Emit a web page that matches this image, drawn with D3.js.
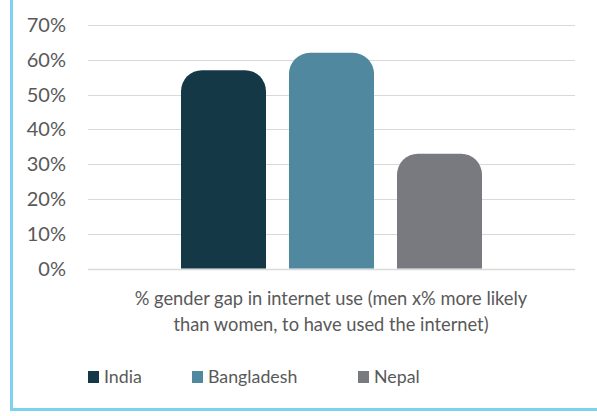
<!DOCTYPE html>
<html>
<head>
<meta charset="utf-8">
<script src="https://cdn.jsdelivr.net/npm/d3@7"></script>
<style>
  html, body { margin: 0; padding: 0; background: #fff; }
  svg { display: block; }
</style>
</head>
<body>
<script>
// chart values
const countries = ['India', 'Bangladesh', 'Nepal']
const gapValues = [57, 62, 33]
const barColors = ['#153846', '#4f889f', '#787a80']
const yTicks = [0, 10, 20, 30, 40, 50, 60, 70]
const axisTitle = ['% gender gap in internet use (men x% more likely', 'than women, to have used the internet)']

const W = 597
const H = 416
const fontFam = 'Lato, "Open Sans", sans-serif'
const textColor = '#595959'

const svg = d3.select('body').append('svg')
  .attr('width', W)
  .attr('height', H)

// frame (only left and bottom edges show)
svg.append('line')
  .attr('x1', 11.5).attr('x2', 11.5).attr('y1', 0).attr('y2', 411)
  .attr('stroke', '#7fd2ef').attr('stroke-width', 3)
svg.append('line')
  .attr('x1', 10).attr('x2', W).attr('y1', 409.5).attr('y2', 409.5)
  .attr('stroke', '#7fd2ef').attr('stroke-width', 3)

const plotLeft = 88
const plotRight = 575
const y = d3.scaleLinear().domain([0, 70]).range([268.5, 25])

// one category, three series clustered in the middle
const x = d3.scaleBand().domain(countries).range([181, 482]).paddingInner(0.213).paddingOuter(0)

// gridlines
svg.append('g')
  .selectAll('line')
  .data(yTicks)
  .join('line')
  .attr('x1', plotLeft)
  .attr('x2', plotRight)
  .attr('y1', d => Math.round(y(d)) + 0.5)
  .attr('y2', d => Math.round(y(d)) + 0.5)
  .attr('stroke', '#d9d9d9')
  .attr('stroke-width', d => d === 0 ? 1.5 : 1.2)

// y tick labels
svg.append('g')
  .selectAll('text')
  .data(yTicks)
  .join('text')
  .attr('x', 66)
  .attr('y', d => y(d))
  .attr('dy', '0.35em')
  .attr('text-anchor', 'end')
  .attr('font-family', fontFam)
  .attr('font-size', 20)
  .attr('fill', textColor)
  .text(d => d + '%')

// bar with rounded top corners
function roundTopBar (x0, y0, w, h, r) {
  r = Math.min(r, w / 2, h)
  const p = d3.path()
  p.moveTo(x0, y0 + h)
  p.lineTo(x0, y0 + r)
  p.arcTo(x0, y0, x0 + r, y0, r)
  p.lineTo(x0 + w - r, y0)
  p.arcTo(x0 + w, y0, x0 + w, y0 + r, r)
  p.lineTo(x0 + w, y0 + h)
  p.closePath()
  return p.toString()
}

svg.append('g')
  .selectAll('path')
  .data(countries)
  .join('path')
  .attr('d', (c, i) => roundTopBar(x(c), y(gapValues[i]), x.bandwidth(), y(0) - y(gapValues[i]), 21))
  .attr('fill', (c, i) => barColors[i])

// axis title
svg.append('g')
  .selectAll('text')
  .data(axisTitle)
  .join('text')
  .attr('x', 331)
  .attr('y', (d, i) => 299 + i * 26)
  .attr('dy', '0.35em')
  .attr('text-anchor', 'middle')
  .attr('font-family', fontFam)
  .attr('font-size', 18.3)
  .attr('fill', textColor)
  .text(d => d)

// legend
const legendX = [88, 192, 358]
const legend = svg.append('g')
  .selectAll('g')
  .data(countries)
  .join('g')
  .attr('transform', (c, i) => `translate(${legendX[i]},377)`)
legend.append('rect')
  .attr('x', 0).attr('y', -6)
  .attr('width', 11).attr('height', 12)
  .attr('fill', (c, i) => barColors[i])
legend.append('text')
  .attr('x', 16)
  .attr('dy', '0.35em')
  .attr('font-family', fontFam)
  .attr('font-size', 17.8)
  .attr('fill', textColor)
  .text(c => c)
</script>
</body>
</html>
